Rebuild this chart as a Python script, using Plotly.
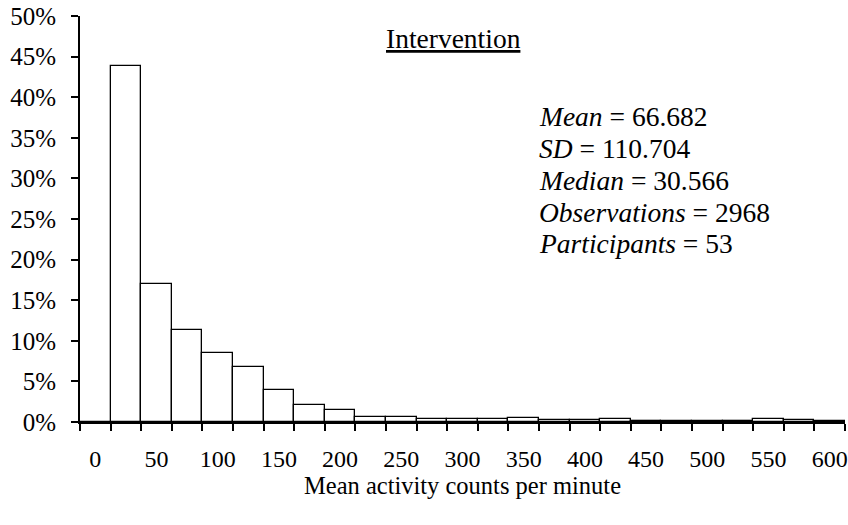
import plotly.graph_objects as go

bins = ["0", "25", "50", "75", "100", "125", "150", "175", "200", "225", "250", "275",
        "300", "325", "350", "375", "400", "425", "450", "475", "500", "525", "550",
        "575", "600"]
percent = [0.0, 43.8, 17.0, 11.35, 8.5, 6.8, 3.95, 2.1, 1.52, 0.58, 0.66, 0.42,
           0.33, 0.37, 0.49, 0.25, 0.25, 0.41, 0.17, 0.17, 0.10, 0.15, 0.33, 0.29, 0.17]
tick_text = [b if i % 2 == 0 else "" for i, b in enumerate(bins)]

stats = ["<i>Mean</i> = 66.682", "<i>SD</i> = 110.704", "<i>Median</i> = 30.566",
         "<i>Observations</i> = 2968", "<i>Participants</i> = 53"]

FONT = "Liberation Serif, Times New Roman, serif"
W, H = 848, 525
L, R, T, B = 80, 3, 16, 103


def px_x(x):
    return (x - L) / (W - L - R)


def px_y(y):
    return (H - B - y) / (H - B - T)


fig = go.Figure(go.Bar(
    x=bins, y=[p / 100 for p in percent],
    marker=dict(color="white", line=dict(color="black", width=1.3)),
))

fig.update_layout(
    width=W, height=H,
    margin=dict(l=L, r=R, t=T, b=B, autoexpand=False),
    paper_bgcolor="white", plot_bgcolor="white",
    bargap=0, showlegend=False,
    font=dict(family=FONT, size=24, color="black"),
)
fig.update_xaxes(
    type="category", tickvals=bins, ticktext=tick_text, tickson="boundaries",
    tickangle=0, automargin=False, ticklabeloverflow="allow",
    ticks="outside", ticklen=7, tickwidth=1.5, tickcolor="black",
    showline=True, linecolor="black", linewidth=2, showgrid=False,
    tickfont=dict(size=24), ticklabelstandoff=14,
    title=dict(text="Mean activity counts per minute", font=dict(size=24.5), standoff=5),
)
fig.update_yaxes(
    range=[0, 0.5], dtick=0.05, tickformat=".0%", automargin=False,
    ticklabeloverflow="allow",
    ticks="outside", ticklen=7, tickwidth=1.5, tickcolor="black",
    showline=True, linecolor="black", linewidth=2, showgrid=False, zeroline=False,
    tickfont=dict(size=25), ticklabelstandoff=10,
)
fig.add_annotation(
    text="<u>Intervention</u>", xref="paper", yref="paper", x=px_x(453), y=px_y(38),
    xanchor="center", yanchor="middle", showarrow=False, font=dict(size=27.5),
)
for i, line in enumerate(stats):
    fig.add_annotation(
        text=line, xref="paper", yref="paper", x=px_x(537), y=px_y(117 + 31.7 * i),
        xanchor="left", yanchor="middle", align="left", showarrow=False,
        font=dict(size=27.5),
    )
fig.write_html(
    "out.html",
    config={"displayModeBar": False},
    post_script="document.body.style.margin='0';document.body.style.overflow='hidden';",
)
